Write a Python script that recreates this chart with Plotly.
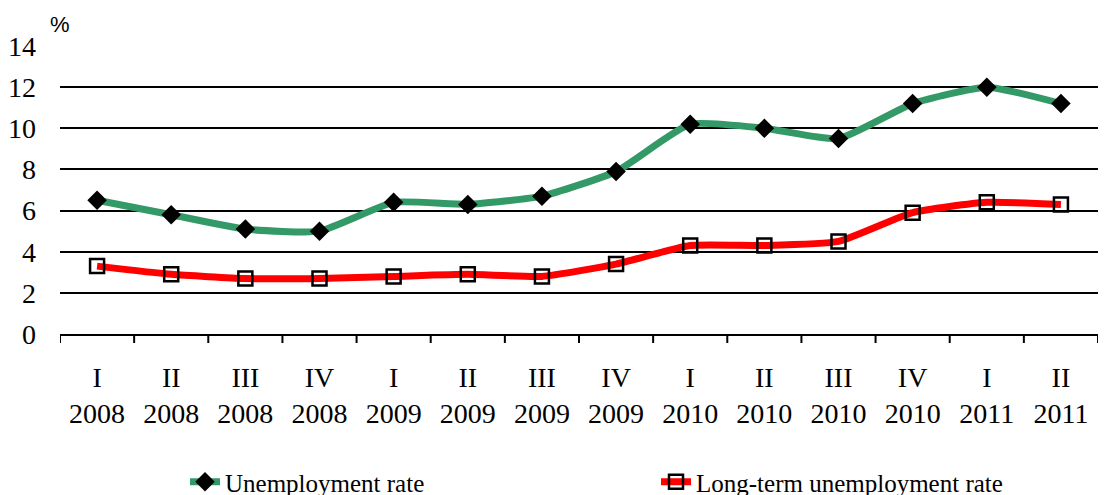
import plotly.graph_objects as go

quarters = ["I", "II", "III", "IV", "I", "II", "III", "IV", "I", "II", "III", "IV", "I", "II"]
years = ["2008", "2008", "2008", "2008", "2009", "2009", "2009", "2009", "2010", "2010", "2010", "2010", "2011", "2011"]
unemployment = [6.5, 5.8, 5.1, 5.0, 6.4, 6.3, 6.7, 7.9, 10.2, 10.0, 9.5, 11.2, 12.0, 11.2]
long_term = [3.3, 2.9, 2.7, 2.7, 2.8, 2.9, 2.8, 3.4, 4.3, 4.3, 4.5, 5.9, 6.4, 6.3]
y_ticks = [0, 2, 4, 6, 8, 10, 12, 14]

cats = [f"{q}<br>{y}" for q, y in zip(quarters, years)]
cat_ids = list(range(len(cats)))

font_family = "Liberation Serif, Times New Roman, serif"
# the page places the figure 8px in from the top-left corner (default body margin)
OFF = 8
W, H = 1109 - OFF, 495 - OFF
ML, MR, MT, MB = 60 - OFF, 11, 46 - OFF, 161
PH = H - MT - MB

fig = go.Figure()
fig.add_trace(go.Scatter(
    x=cat_ids, y=unemployment, name="Unemployment rate",
    mode="lines+markers",
    line=dict(color="#339966", width=7, shape="spline", smoothing=0.5),
    marker=dict(symbol="diamond", size=15, color="black"),
))
fig.add_trace(go.Scatter(
    x=cat_ids, y=long_term, name="Long-term unemployment rate",
    mode="lines+markers",
    line=dict(color="#ff0000", width=7, shape="spline", smoothing=0.5),
    marker=dict(symbol="square-open", size=14, color="black", line=dict(width=2.5, color="black")),
))

boundaries = [i - 0.5 for i in range(len(cats) + 1)]
shapes = [dict(type="line", xref="x", yref="paper", x0=b, x1=b, y0=0, y1=-9 / PH,
               line=dict(color="black", width=2)) for b in boundaries]

fig.update_layout(
    width=W, height=H,
    margin=dict(l=ML, r=MR, t=MT, b=MB, autoexpand=False),
    paper_bgcolor="white", plot_bgcolor="white",
    font=dict(family=font_family, size=28, color="black"),
    showlegend=True,
    legend=dict(orientation="h", xref="container", yref="container",
                x=(185 - OFF) / W, xanchor="left", y=1 - (482 - OFF) / H, yanchor="middle",
                font=dict(size=25, family=font_family), entrywidth=426, entrywidthmode="pixels",
                bgcolor="rgba(0,0,0,0)"),
    xaxis=dict(
        range=[-0.5, len(cats) - 0.5],
        tickmode="array", tickvals=cat_ids, ticktext=cats,
        showgrid=False, zeroline=False, automargin=False,
        showline=True, linecolor="black", linewidth=2,
        ticks="", tickfont=dict(size=28, family=font_family), ticklabelstandoff=17,
    ),
    yaxis=dict(
        range=[0, 14], tickvals=y_ticks, showgrid=True, gridcolor="black", gridwidth=2,
        zeroline=False, showline=False, ticks="", ticklabelstandoff=23, automargin=False,
        tickfont=dict(size=28, family=font_family),
    ),
    annotations=[dict(text="%", xref="paper", yref="paper", x=0, xanchor="center",
                      y=1 + (46 - 25) / PH, yanchor="middle",
                      showarrow=False, font=dict(size=22, family="Liberation Sans, Arial, sans-serif"))],
    shapes=shapes,
)

fig.write_html("out.html")
